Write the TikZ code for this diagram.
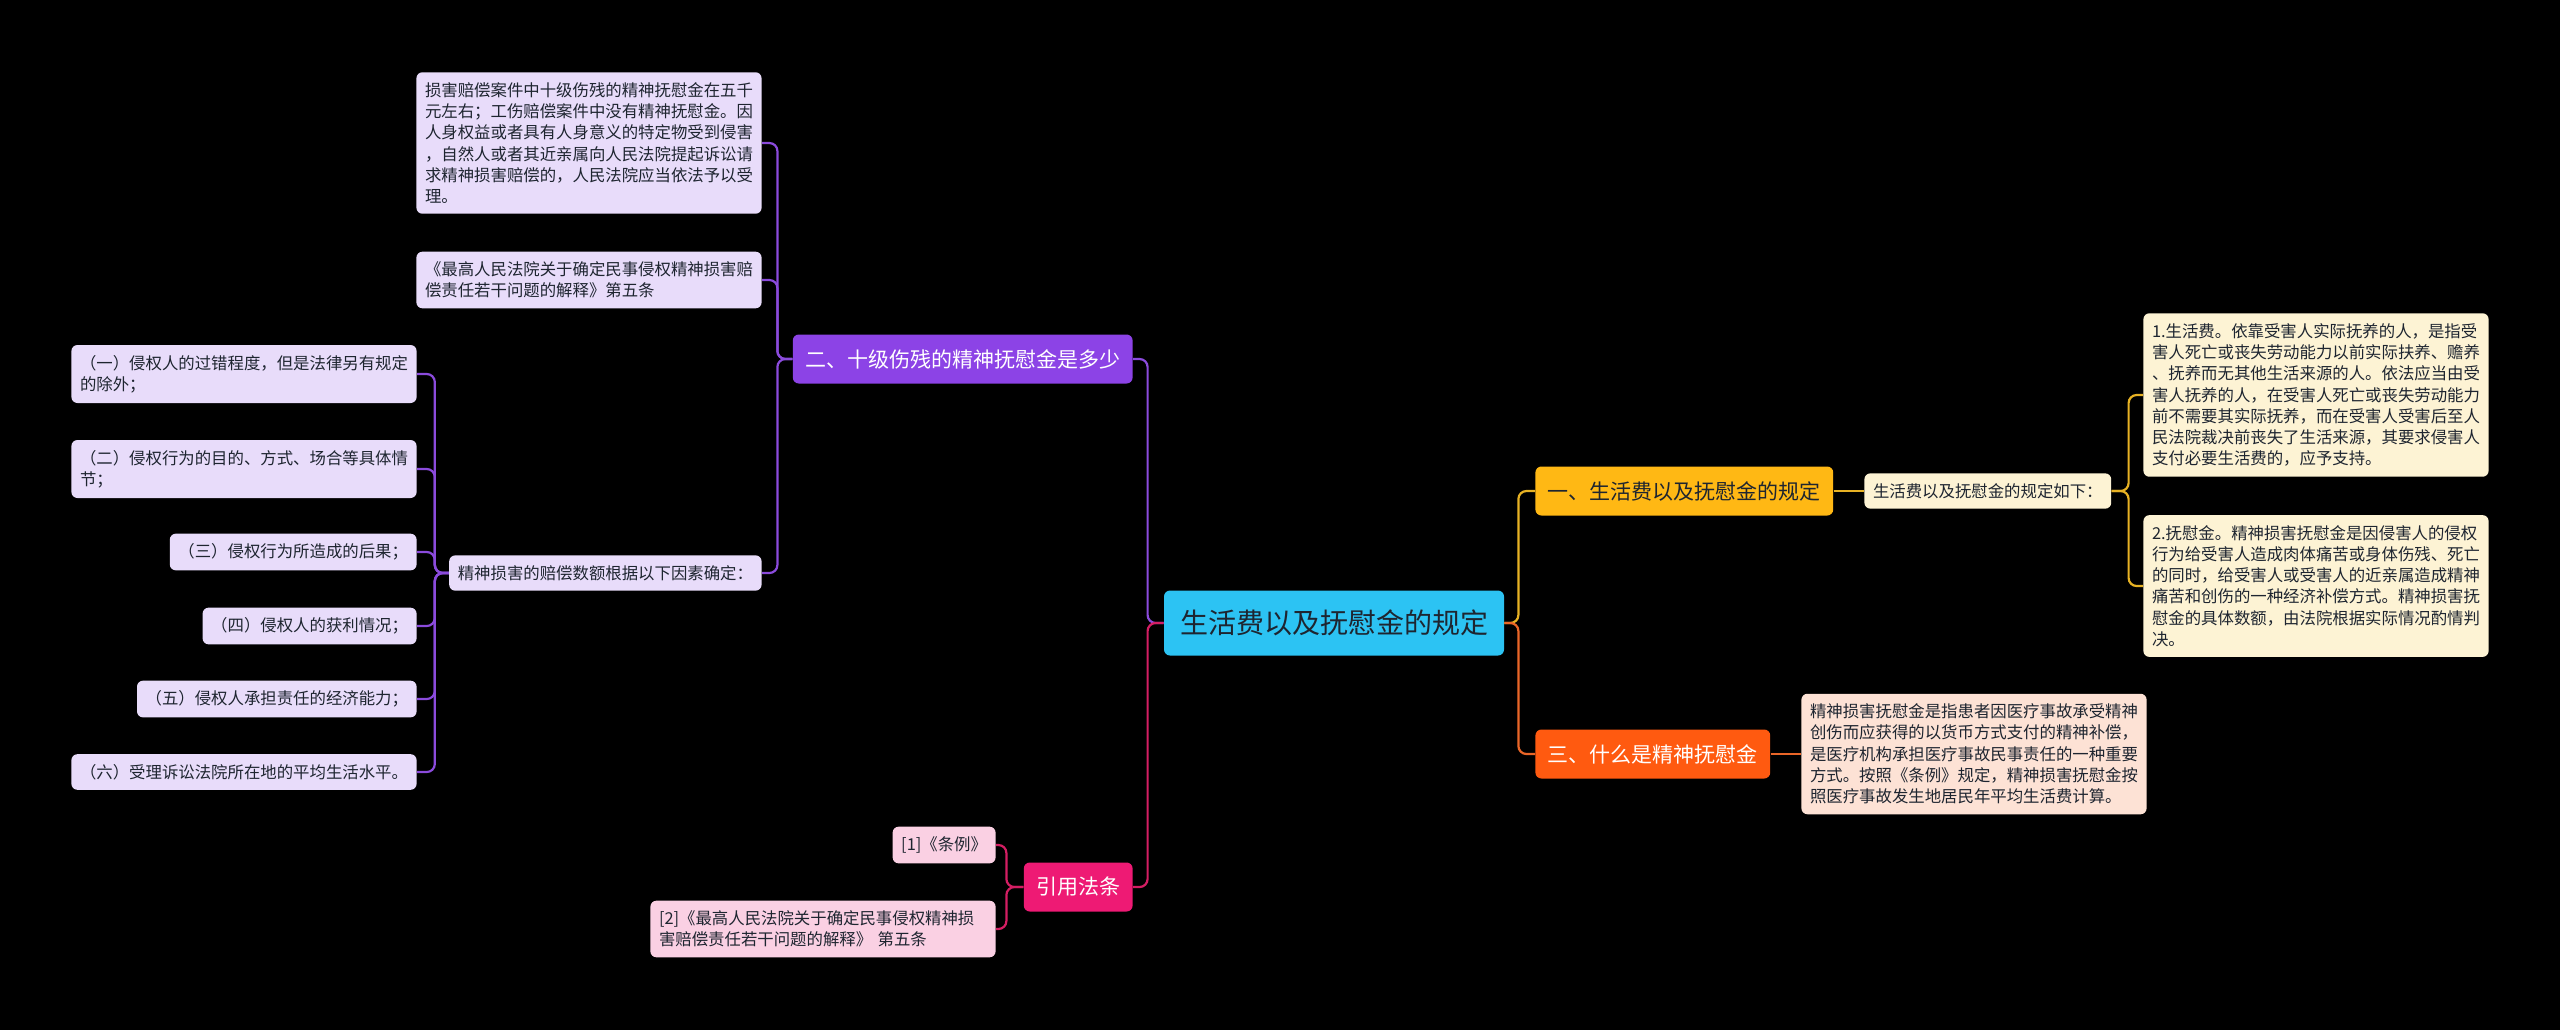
\documentclass[tikz,border=0pt]{standalone}
\usepackage{fontspec}
\newfontfamily\cjk{Noto Sans CJK SC}
\definecolor{rootc}{HTML}{2CC3F3}
\definecolor{darktxt}{HTML}{1E2530}
\definecolor{purpc}{HTML}{8C43E6}
\definecolor{purpline}{HTML}{8B4BDC}
\definecolor{lavc}{HTML}{E8DCFA}
\definecolor{pinkc}{HTML}{EE1A74}
\definecolor{pinkline}{HTML}{D41E63}
\definecolor{rosec}{HTML}{FAD0E3}
\definecolor{ambc}{HTML}{FFB814}
\definecolor{ambline}{HTML}{E7B224}
\definecolor{creamc}{HTML}{FDF3D4}
\definecolor{orgc}{HTML}{FF5A10}
\definecolor{orgline}{HTML}{EA6628}
\definecolor{peachc}{HTML}{FDE2D5}

\begin{document}
\begin{tikzpicture}[x=0.5pt,y=-0.5pt,
  topic/.style={fill=rootc,rounded corners=3pt,inner xsep=8pt,minimum height=32.5pt,text=darktxt,font=\cjk\fontsize{14pt}{17pt}\selectfont},
  branch/.style={rounded corners=3pt,inner xsep=6.2pt,minimum height=24.5pt,font=\cjk\fontsize{10.5pt}{13pt}\selectfont},
  leaf/.style={rounded corners=3pt,align=left,inner xsep=4.3pt,inner ysep=5pt,text=darktxt,font=\cjk\fontsize{8.2pt}{10.65pt}\selectfont},
  link/.style={line width=1.1pt,rounded corners=4pt}]
\useasboundingbox (0,0) rectangle (2560,1030);
\fill[black] (0,0) rectangle (2560,1030);

% centre and main branches
\node[topic] (root) at (1334,623) {生活费以及抚慰金的规定};
\node[branch,fill=purpc,text=white,anchor=east] (sec2) at (1133,359) {二、十级伤残的精神抚慰金是多少};
\node[branch,fill=pinkc,text=white,anchor=east] (cite) at (1133,887) {引用法条};
\node[branch,fill=ambc,text=darktxt,anchor=west] (sec1) at (1535,491) {一、生活费以及抚慰金的规定};
\node[branch,fill=orgc,text=white,anchor=west] (sec3) at (1535,754) {三、什么是精神抚慰金};

% left: section two
\node[leaf,fill=lavc,anchor=east] (amount) at (762,143) {损害赔偿案件中十级伤残的精神抚慰金在五千\\元左右；工伤赔偿案件中没有精神抚慰金。因\\人身权益或者具有人身意义的特定物受到侵害\\，自然人或者其近亲属向人民法院提起诉讼请\\求精神损害赔偿的，人民法院应当依法予以受\\理。};
\node[leaf,fill=lavc,anchor=east] (article) at (762,280) {《最高人民法院关于确定民事侵权精神损害赔\\偿责任若干问题的解释》第五条};
\node[leaf,fill=lavc,anchor=east] (factors) at (762,573) {精神损害的赔偿数额根据以下因素确定：};
\node[leaf,fill=lavc,anchor=east] (f1) at (417,374) {（一）侵权人的过错程度，但是法律另有规定\\的除外；};
\node[leaf,fill=lavc,anchor=east] (f2) at (417,469) {（二）侵权行为的目的、方式、场合等具体情\\节；};
\node[leaf,fill=lavc,anchor=east] (f3) at (417,552) {（三）侵权行为所造成的后果；};
\node[leaf,fill=lavc,anchor=east] (f4) at (417,626) {（四）侵权人的获利情况；};
\node[leaf,fill=lavc,anchor=east] (f5) at (417,699) {（五）侵权人承担责任的经济能力；};
\node[leaf,fill=lavc,anchor=east] (f6) at (417,772) {（六）受理诉讼法院所在地的平均生活水平。};

% left: cited rules
\node[leaf,fill=rosec,anchor=east] (ref1) at (996,845) {[1]《条例》};
\node[leaf,fill=rosec,anchor=east,text width=164pt] (ref2) at (996,929) {[2]《最高人民法院关于确定民事侵权精神损\\害赔偿责任若干问题的解释》 第五条};

% right: sections one and three
\node[leaf,fill=creamc,anchor=west] (rules) at (1864,491) {生活费以及抚慰金的规定如下：};
\node[leaf,fill=creamc,anchor=west] (living) at (2143,395) {1.生活费。依靠受害人实际抚养的人，是指受\\害人死亡或丧失劳动能力以前实际扶养、赡养\\、抚养而无其他生活来源的人。依法应当由受\\害人抚养的人，在受害人死亡或丧失劳动能力\\前不需要其实际抚养，而在受害人受害后至人\\民法院裁决前丧失了生活来源，其要求侵害人\\支付必要生活费的，应予支持。};
\node[leaf,fill=creamc,anchor=west] (solace) at (2143,586) {2.抚慰金。精神损害抚慰金是因侵害人的侵权\\行为给受害人造成肉体痛苦或身体伤残、死亡\\的同时，给受害人或受害人的近亲属造成精神\\痛苦和创伤的一种经济补偿方式。精神损害抚\\慰金的具体数额，由法院根据实际情况酌情判\\决。};
\node[leaf,fill=peachc,anchor=west] (meaning) at (1801,754) {精神损害抚慰金是指患者因医疗事故承受精神\\创伤而应获得的以货币方式支付的精神补偿，\\是医疗机构承担医疗事故民事责任的一种重要\\方式。按照《条例》规定，精神损害抚慰金按\\照医疗事故发生地居民年平均生活费计算。};

% connectors
\draw[link,purpline] (root.west) -- ++(-16,0) |- (sec2.east);
\draw[link,pinkline] (root.west) -- ++(-16,0) |- (cite.east);
\draw[link,ambline] (root.east) -- ++(14,0) |- (sec1.west);
\draw[link,orgline] (root.east) -- ++(14,0) |- (sec3.west);
\foreach \n in {amount,article,factors}{\draw[link,purpline] (sec2.west) -- ++(-15,0) |- (\n.east);}
\foreach \n in {f1,f2,f3,f4,f5,f6}{\draw[link,purpline] (factors.west) -- ++(-14,0) |- (\n.east);}
\foreach \n in {ref1,ref2}{\draw[link,pinkline] (cite.west) -- ++(-17,0) |- (\n.east);}
\draw[link,ambline] (sec1.east) -- (rules.west);
\foreach \n in {living,solace}{\draw[link,ambline] (rules.east) -- ++(17,0) |- (\n.west);}
\draw[link,orgline] (sec3.east) -- (meaning.west);
\end{tikzpicture}
\end{document}
